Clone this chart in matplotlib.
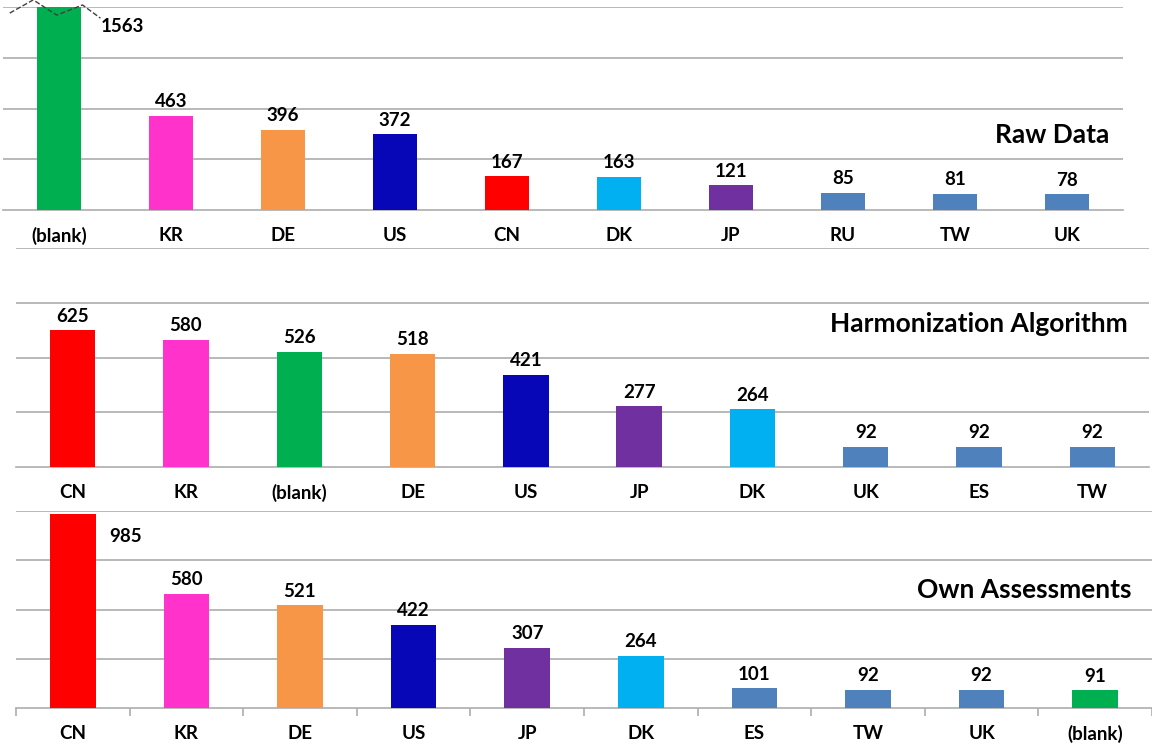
import matplotlib.pyplot as plt

plt.rcParams['font.family'] = ['Lato', 'DejaVu Sans']

# values
raw_labels = ['(blank)', 'KR', 'DE', 'US', 'CN', 'DK', 'JP', 'RU', 'TW', 'UK']
raw_values = [1563, 463, 396, 372, 167, 163, 121, 85, 81, 78]

harm_labels = ['CN', 'KR', '(blank)', 'DE', 'US', 'JP', 'DK', 'UK', 'ES', 'TW']
harm_values = [625, 580, 526, 518, 421, 277, 264, 92, 92, 92]

own_labels = ['CN', 'KR', 'DE', 'US', 'JP', 'DK', 'ES', 'TW', 'UK', '(blank)']
own_values = [985, 580, 521, 422, 307, 264, 101, 92, 92, 91]

colors = {
    '(blank)': '#00B050', 'KR': '#FF33CC', 'DE': '#F79646', 'US': '#0707B8',
    'CN': '#FF0000', 'DK': '#00B0F0', 'JP': '#7030A0',
}
other_color = '#4F81BD'
grid_color = '#ADADAD'
fs = 13.5

fig = plt.figure(figsize=(11.52, 7.47), dpi=100)

ax1 = fig.add_axes([3 / 1152, 537 / 747, 1120 / 1152, 203 / 747])
ax2 = fig.add_axes([16 / 1152, 280 / 747, 1133 / 1152, 219 / 747])
ax3 = fig.add_axes([16 / 1152, 39 / 747, 1136 / 1152, 197 / 747])


def draw_panel(ax, labels, values, title, tx, ty, skip=()):
    x = list(range(len(labels)))
    bar_colors = [colors.get(c, other_color) for c in labels]
    ax.bar(x, values, width=0.4, color=bar_colors, zorder=3)
    ax.set_xlim(-0.5, len(labels) - 0.5)
    ax.set_ylim(0, 1000)
    ax.set_yticks([250, 500, 750, 1000])
    ax.yaxis.grid(True, color=grid_color, lw=1.2, zorder=0)
    ax.tick_params(axis='y', length=0, labelleft=False)
    ax.set_xticks(x)
    ax.set_xticklabels(labels, fontsize=fs, fontweight='bold')
    ax.tick_params(axis='x', length=0, pad=12)
    for s in ['top', 'left', 'right']:
        ax.spines[s].set_visible(False)
    ax.spines['bottom'].set_color(grid_color)
    ax.spines['bottom'].set_linewidth(1.2)
    for i, v in enumerate(values):
        if i in skip:
            continue
        ax.annotate(str(v), (i, v), xytext=(0, 4), textcoords='offset points',
                    ha='center', va='bottom', fontsize=fs, fontweight='bold')
    ax.text(tx, ty, title, transform=ax.transAxes, ha='right', va='center',
            fontsize=19, fontweight='bold')


draw_panel(ax1, raw_labels, raw_values, 'Raw Data', 0.988, 0.37, skip=(0,))
draw_panel(ax2, harm_labels, harm_values, 'Harmonization Algorithm', 0.981, 0.653)
draw_panel(ax3, own_labels, own_values, 'Own Assessments', 0.982, 0.60, skip=(0,))

# broken bar on the raw data panel
ax1.plot([-0.44, -0.23, -0.02, 0.21, 0.37], [970, 1035, 960, 1010, 945],
         ls='--', color='#404040', lw=1, clip_on=False, zorder=4)
ax1.text(0.37, 905, str(raw_values[0]), ha='left', va='center',
         fontsize=fs, fontweight='bold')

# label beside the tall CN bar
ax3.text(0.32, 873, str(own_values[0]), ha='left', va='center',
         fontsize=fs, fontweight='bold')

# tick marks between categories on the bottom panel
ax3.set_xticks([i - 0.5 for i in range(len(own_labels) + 1)], minor=True)
ax3.tick_params(axis='x', which='minor', length=6, color=grid_color, width=1.2)

fig.savefig('out.png', dpi=100)
